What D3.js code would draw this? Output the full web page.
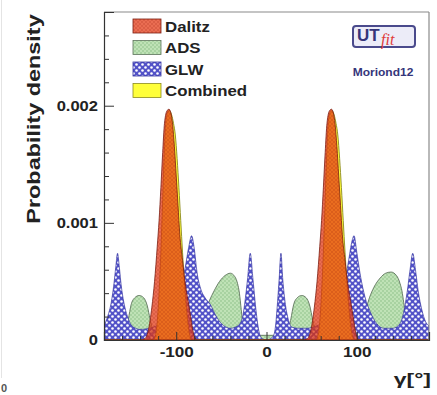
<!DOCTYPE html>
<html>
<head>
<meta charset="utf-8">
<script src="https://cdn.jsdelivr.net/npm/d3@7"></script>
<style>
  html, body { margin: 0; padding: 0; background: #fff; }
  svg { display: block; }
  text { font-family: "Liberation Sans", Arial, Helvetica, sans-serif; }
</style>
</head>
<body>
<svg id="chart" width="437" height="395"></svg>
<script>
// gamma (degrees) and probability density for each constraint
const dalitzGamma = [-180, -140, -135, -131, -127, -124, -121, -119, -117, -115, -113, -110, -108, -106, -104, -102, -100, -98, -96, -93, -90, -87, -84, -82, -80, -77,
  40, 45, 49, 53, 56, 59, 61, 63, 65, 67, 70, 72, 74, 76, 78, 80, 82, 84, 87, 90, 93, 96, 98, 100, 103, 180];
const dalitzDensity = [0, 0, 0.00001, 0.00008, 0.00028, 0.0005, 0.0008, 0.00102, 0.0013, 0.0016, 0.00185, 0.00196, 0.00197, 0.00194, 0.00184, 0.00165, 0.0014, 0.00115, 0.0009, 0.00068, 0.00048, 0.00034, 0.0002, 0.0001, 0.00003, 0,
  0, 0.00001, 0.00008, 0.00028, 0.0005, 0.0008, 0.00102, 0.0013, 0.0016, 0.00185, 0.00196, 0.00197, 0.00194, 0.00184, 0.00165, 0.0014, 0.00115, 0.0009, 0.00068, 0.00048, 0.00034, 0.0002, 0.0001, 0.00003, 0, 0];

const adsGamma = [-180, -170, -160, -156, -153, -150, -146, -141, -136, -132, -129, -126, -115, -100, -85, -75, -68, -63, -58, -52, -46, -40, -35, -32, -30, -28, -26, -23, -10,
  0, 10, 20, 24, 27, 30, 34, 39, 44, 48, 51, 54, 65, 80, 95, 105, 110, 114, 119, 126, 132, 138, 144, 148, 150, 152, 154, 156, 158, 170, 180];
const adsDensity = [0.00004, 0.00004, 0.00005, 0.00008, 0.00018, 0.0003, 0.00036, 0.00038, 0.00036, 0.00029, 0.00018, 0.0001, 0.00008, 0.00008, 0.0001, 0.00016, 0.00024, 0.00034, 0.00042, 0.0005, 0.00055, 0.00057, 0.00054, 0.00048, 0.0004, 0.00026, 0.00012, 0.00005, 0.00004,
  0.00004, 0.00004, 0.00005, 0.00008, 0.00018, 0.0003, 0.00036, 0.00038, 0.00036, 0.00029, 0.00018, 0.0001, 0.00008, 0.00008, 0.0001, 0.00016, 0.00026, 0.00036, 0.00045, 0.00053, 0.00057, 0.00058, 0.00055, 0.00048, 0.00042, 0.00032, 0.0002, 0.00009, 0.00005, 0.00004, 0.00004];

const glwGamma = [-180, -176, -172, -169, -167, -165, -163, -161, -158, -154, -150, -145, -140, -130, -120, -110, -100, -95, -90, -86, -83, -80, -77, -73, -68, -62, -57, -50, -40, -32, -27, -24, -21, -18, -15, -12, -9, -6,
  0, 6, 8, 10, 12, 14, 16, 18, 21, 24, 28, 35, 45, 55, 65, 75, 82, 87, 91, 94, 97, 100, 104, 109, 115, 122, 130, 140, 148, 152, 156, 159, 162, 165, 168, 172, 176, 180];
const glwDensity = [0.00012, 0.0002, 0.00032, 0.00048, 0.00062, 0.00074, 0.00062, 0.00047, 0.00032, 0.0002, 0.00013, 0.0001, 0.00009, 0.0001, 0.00013, 0.0002, 0.00032, 0.00045, 0.00062, 0.0008, 0.00089, 0.00078, 0.00058, 0.00044, 0.00036, 0.0003, 0.00022, 0.00014, 0.0001, 0.00012, 0.00018, 0.00032, 0.00052, 0.00074, 0.00052, 0.00028, 0.0001, 0.00002,
  0, 0.00002, 0.00004, 0.00012, 0.0003, 0.00052, 0.00074, 0.00052, 0.0003, 0.00018, 0.00011, 0.0001, 0.0001, 0.00012, 0.00016, 0.00024, 0.00034, 0.0005, 0.00068, 0.00082, 0.00089, 0.00075, 0.00055, 0.00037, 0.00024, 0.00014, 0.0001, 0.0001, 0.00014, 0.00024, 0.00042, 0.0006, 0.00074, 0.0006, 0.00042, 0.00026, 0.00016, 0.00012];

const combinedGamma = [-180, -125, -122, -119, -117, -115, -113, -111, -108, -105, -103, -101, -99, -97, -95, -93, -91, -89, -87, -85, -83,
  55, 58, 61, 63, 65, 67, 69, 72, 75, 77, 79, 81, 83, 85, 87, 89, 91, 93, 95, 97, 180];
const combinedDensity = [0, 0, 0.00008, 0.0004, 0.00075, 0.0012, 0.00165, 0.0019, 0.00196, 0.00192, 0.00185, 0.00175, 0.00155, 0.0013, 0.00102, 0.00075, 0.0005, 0.0003, 0.00014, 0.00004, 0,
  0, 0.00008, 0.0004, 0.00075, 0.0012, 0.00165, 0.0019, 0.00196, 0.00192, 0.00185, 0.00175, 0.00155, 0.0013, 0.00102, 0.00075, 0.0005, 0.0003, 0.00014, 0.00004, 0, 0];

const legendLabels = ["Dalitz", "ADS", "GLW", "Combined"];
const yMajorTicks = [0, 0.001, 0.002];
const yMinorTicks = [0.0002, 0.0004, 0.0006, 0.0008, 0.0012, 0.0014, 0.0016, 0.0018, 0.0022, 0.0024, 0.0026];
const xMajorTicks = [-100, 0, 100];
const xMinorTicks = [-160, -140, -120, -80, -60, -40, -20, 20, 40, 60, 80, 120, 140, 160];

const svg = d3.select("#chart");
const plot = { left: 104, right: 429, top: 12, bottom: 340 };

const x = d3.scaleLinear().domain([-180, 180]).range([plot.left, plot.right]);
const y = d3.scaleLinear().domain([0, 0.0028]).range([plot.bottom, plot.top]);

// helper: widen text to the broad bold look of the labels
function widen(sel, k) {
  sel.each(function () {
    const n = this.getComputedTextLength();
    d3.select(this).attr("textLength", n * k).attr("lengthAdjust", "spacingAndGlyphs");
  });
}

// ---------- fill patterns ----------
const defs = svg.append("defs");

const pDal = defs.append("pattern").attr("id", "pDalitz").attr("patternUnits", "userSpaceOnUse")
  .attr("width", 4).attr("height", 4);
pDal.append("rect").attr("width", 4).attr("height", 4).attr("fill", "rgba(226,58,22,0.74)");
pDal.append("path").attr("d", "M0,0L4,4M4,0L0,4").attr("stroke", "rgba(150,30,10,0.3)").attr("stroke-width", 0.6);

const pAds = defs.append("pattern").attr("id", "pAds").attr("patternUnits", "userSpaceOnUse")
  .attr("width", 4).attr("height", 4);
pAds.append("rect").attr("width", 4).attr("height", 4).attr("fill", "#bfe2b6");
pAds.append("circle").attr("cx", 1).attr("cy", 1).attr("r", 0.75).attr("fill", "#86bb82");
pAds.append("circle").attr("cx", 3).attr("cy", 3).attr("r", 0.75).attr("fill", "#86bb82");

const pGlw = defs.append("pattern").attr("id", "pGlw").attr("patternUnits", "userSpaceOnUse")
  .attr("width", 6).attr("height", 6);
pGlw.append("rect").attr("width", 6).attr("height", 6).attr("fill", "#5252c8");
pGlw.append("circle").attr("cx", 1.5).attr("cy", 1.5).attr("r", 1.3).attr("fill", "#ffffff");
pGlw.append("circle").attr("cx", 4.5).attr("cy", 4.5).attr("r", 1.3).attr("fill", "#ffffff");

defs.append("clipPath").attr("id", "plotClip").append("rect")
  .attr("x", plot.left).attr("y", plot.top)
  .attr("width", plot.right - plot.left).attr("height", plot.bottom - plot.top);

// ---------- left-edge remnant of the neighbouring panel ----------
svg.append("line").attr("x1", 1.5).attr("x2", 1.5).attr("y1", 0).attr("y2", 378)
  .attr("stroke", "#e4e4e4").attr("stroke-width", 1);
svg.append("text").attr("x", 1).attr("y", 392).attr("font-size", 11).attr("font-weight", "bold")
  .attr("fill", "#555").text("0");

// ---------- distributions ----------
const series = [
  { name: "ADS", g: adsGamma, v: adsDensity, fill: "url(#pAds)", stroke: "#5d735b", sw: 0.9 },
  { name: "GLW", g: glwGamma, v: glwDensity, fill: "url(#pGlw)", stroke: "#3434a0", sw: 0.7 },
  { name: "Combined", g: combinedGamma, v: combinedDensity, fill: "#ffff3a", stroke: "#8c8a1e", sw: 0.9 },
  { name: "Dalitz", g: dalitzGamma, v: dalitzDensity, fill: "url(#pDalitz)", stroke: "#7a1c10", sw: 0.8 }
];

const area = d3.area()
  .x(d => x(d[0]))
  .y0(y(0))
  .y1(d => y(d[1]))
  .curve(d3.curveMonotoneX);

const gPlot = svg.append("g").attr("clip-path", "url(#plotClip)");
series.forEach(s => {
  const pts = s.g.map((g, i) => [g, s.v[i]]);
  gPlot.append("path").datum(pts)
    .attr("d", area)
    .attr("fill", s.fill)
    .attr("stroke", s.stroke)
    .attr("stroke-width", s.sw)
    .attr("stroke-linejoin", "round");
});

// ---------- frame ----------
svg.append("line").attr("x1", plot.left).attr("x2", plot.right).attr("y1", plot.top).attr("y2", plot.top)
  .attr("stroke", "#8a8a8a").attr("stroke-width", 1.2);
svg.append("line").attr("x1", plot.right).attr("x2", plot.right).attr("y1", plot.top).attr("y2", plot.bottom)
  .attr("stroke", "#8a8a8a").attr("stroke-width", 1.2);

// ---------- axes ----------
const fmtY = d => (d === 0 ? "0" : d3.format(".3f")(d));

const yAxis = svg.append("g").attr("transform", `translate(${plot.left},0)`)
  .call(d3.axisLeft(y).tickValues(yMajorTicks).tickSize(-10).tickPadding(6).tickFormat(fmtY));
svg.append("g").attr("transform", `translate(${plot.left},0)`)
  .call(d3.axisLeft(y).tickValues(yMinorTicks).tickSize(-5).tickFormat(""))
  .call(g => g.select(".domain").remove());

const xAxis = svg.append("g").attr("transform", `translate(0,${plot.bottom})`)
  .call(d3.axisBottom(x).tickValues(xMajorTicks).tickSize(-8).tickPadding(7).tickFormat(d => String(d)));
svg.append("g").attr("transform", `translate(0,${plot.bottom})`)
  .call(d3.axisBottom(x).tickValues(xMinorTicks).tickSize(-4).tickFormat(""))
  .call(g => g.select(".domain").remove());

svg.selectAll(".domain").attr("stroke", "#333").attr("stroke-width", 1.2);
svg.selectAll(".tick line").attr("stroke", "#333");
[yAxis, xAxis].forEach(a => a.selectAll("text")
  .attr("font-size", 14).attr("font-weight", "bold").attr("fill", "#222")
  .style("font-family", "'Liberation Sans', Arial, sans-serif"));
widen(yAxis.selectAll("text"), 1.18);
widen(xAxis.selectAll("text"), 1.22);

// ---------- axis titles ----------
const yTitle = svg.append("text")
  .attr("transform", "translate(40,119) rotate(-90)")
  .attr("text-anchor", "middle").attr("font-size", 18).attr("font-weight", "bold").attr("fill", "#222")
  .text("Probability density");
widen(yTitle, 1.3);

const xTitle = svg.append("text")
  .attr("x", 431).attr("y", 385)
  .attr("text-anchor", "end").attr("font-size", 17).attr("font-weight", "bold").attr("fill", "#222")
  .text("γ[°]");
widen(xTitle, 1.35);

// ---------- legend ----------
const legendFill = { Dalitz: "url(#pDalitz)", ADS: "url(#pAds)", GLW: "url(#pGlw)", Combined: "#ffff3a" };
const legendStroke = { Dalitz: "#7a1c10", ADS: "#5d735b", GLW: "#3434a0", Combined: "#8c8a1e" };
const leg = svg.append("g");
legendLabels.forEach((name, i) => {
  const cy = 26 + i * 21.5;
  leg.append("rect").attr("x", 133).attr("y", cy - 7).attr("width", 28).attr("height", 14)
    .attr("fill", legendFill[name]).attr("stroke", legendStroke[name]).attr("stroke-width", 0.8);
  const t = leg.append("text").attr("x", 165).attr("y", cy + 5.5)
    .attr("font-size", 14).attr("font-weight", "bold").attr("fill", "#222").text(name);
  widen(t, 1.2);
});

// ---------- UTfit badge ----------
const badge = svg.append("g");
badge.append("rect").attr("x", 353).attr("y", 26).attr("width", 62).attr("height", 21).attr("rx", 3)
  .attr("fill", "#ececf8").attr("stroke", "#4a4a8c").attr("stroke-width", 2);
badge.append("text").attr("x", 357).attr("y", 41).attr("font-size", 17).attr("font-weight", "bold")
  .attr("fill", "#35357a").text("UT");
badge.append("text").attr("x", 381).attr("y", 45).attr("font-size", 16).attr("font-style", "italic")
  .style("font-family", "'Liberation Serif', 'DejaVu Serif', serif")
  .attr("fill", "#e03a3a").text("fit");
const mor = badge.append("text").attr("x", 383).attr("y", 76).attr("text-anchor", "middle")
  .attr("font-size", 10).attr("font-weight", "bold").attr("fill", "#35357a").text("Moriond12");
widen(mor, 1.2);
</script>
</body>
</html>
